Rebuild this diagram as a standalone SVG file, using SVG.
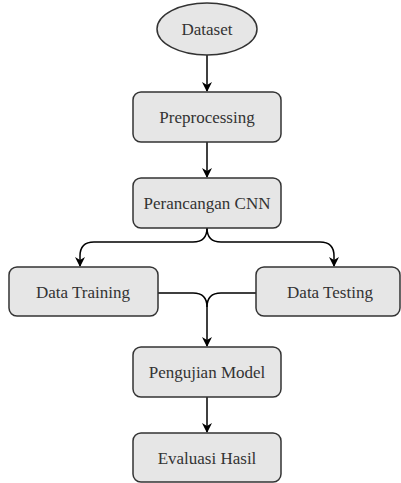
<svg xmlns="http://www.w3.org/2000/svg" width="401" height="483" viewBox="0 0 401 483">
<style>
.n{fill:#e6e6e6;stroke:#333;stroke-width:1.5}
.t{font-family:"Liberation Serif","Times New Roman",serif;font-size:17px;fill:#333;text-anchor:middle;dominant-baseline:central}
.c{fill:none;stroke:#000;stroke-width:1.5}
</style>
<defs>
<marker id="a" viewBox="0 0 10 10" refX="9" refY="5" markerWidth="10" markerHeight="10" markerUnits="userSpaceOnUse" orient="auto">
<path d="M0,0 L10,5 L0,10 L3,5 Z" fill="#000"/>
</marker>
</defs>
<rect width="401" height="483" fill="#fff"/>
<g id="connectors">
<path class="c" d="M207,55 V91" marker-end="url(#a)"/>
<path class="c" d="M207,142 V177" marker-end="url(#a)"/>
<path class="c" d="M207,228 Q207,242 193,242 H94 Q80,242 80,256 V266" marker-end="url(#a)"/>
<path class="c" d="M207,228 Q207,242 221,242 H320 Q334,242 334,256 V266" marker-end="url(#a)"/>
<path class="c" d="M158,293 H193 Q207,293 207,307 V346" marker-end="url(#a)"/>
<path class="c" d="M256,293 H221 Q207,293 207,307"/>
<path class="c" d="M207,397 V432" marker-end="url(#a)"/>
</g>
<g id="dataset"><ellipse class="n" cx="207" cy="29" rx="50" ry="26"/><text class="t" x="207" y="29">Dataset</text></g>
<g id="preprocessing"><rect class="n" x="133" y="92" width="148" height="50" rx="8"/><text class="t" x="207" y="117">Preprocessing</text></g>
<g id="perancangan"><rect class="n" x="133" y="178" width="148" height="50" rx="8"/><text class="t" x="207" y="203">Perancangan CNN</text></g>
<g id="training"><rect class="n" x="9" y="267" width="149" height="49" rx="8"/><text class="t" x="83" y="292">Data Training</text></g>
<g id="testing"><rect class="n" x="256" y="267" width="144" height="49" rx="8"/><text class="t" x="330" y="292">Data Testing</text></g>
<g id="pengujian"><rect class="n" x="133" y="347" width="148" height="50" rx="8"/><text class="t" x="207" y="372">Pengujian Model</text></g>
<g id="evaluasi"><rect class="n" x="133" y="433" width="148" height="49" rx="8"/><text class="t" x="207" y="458">Evaluasi Hasil</text></g>
</svg>
